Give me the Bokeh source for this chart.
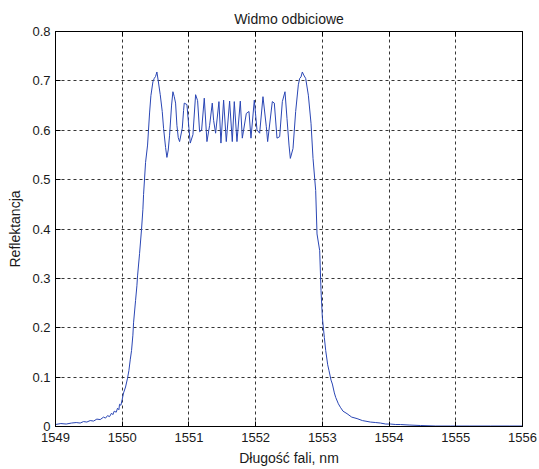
from bokeh.plotting import figure
from bokeh.models import Range1d, FixedTicker, LinearAxis, CustomLabelingPolicy
from bokeh.embed import file_html
from bokeh.resources import INLINE

# Reflection spectrum
wavelength = [
    1549.00, 1549.08, 1549.16, 1549.24, 1549.31, 1549.37, 1549.42, 1549.47,
    1549.52, 1549.57, 1549.62, 1549.67, 1549.72, 1549.75, 1549.78, 1549.81,
    1549.84, 1549.86, 1549.88, 1549.91, 1549.93, 1549.95, 1549.96, 1549.98,
    1550.00, 1550.02, 1550.05, 1550.08, 1550.10, 1550.12, 1550.14, 1550.16,
    1550.17, 1550.20, 1550.22, 1550.23, 1550.26, 1550.29, 1550.31, 1550.32,
    1550.35, 1550.38, 1550.41, 1550.43, 1550.46, 1550.48, 1550.50, 1550.52,
    1550.54, 1550.57, 1550.60, 1550.62, 1550.65, 1550.67, 1550.69, 1550.71,
    1550.74, 1550.76, 1550.78, 1550.80, 1550.82, 1550.84, 1550.86, 1550.90,
    1550.92, 1550.93, 1550.97, 1551.00, 1551.02, 1551.06, 1551.10, 1551.13,
    1551.16, 1551.19, 1551.23, 1551.27, 1551.31, 1551.35, 1551.37, 1551.40,
    1551.45, 1551.48, 1551.52, 1551.56, 1551.61, 1551.65, 1551.68, 1551.72,
    1551.77, 1551.80, 1551.86, 1551.90, 1551.93, 1551.98, 1552.02, 1552.06,
    1552.11, 1552.16, 1552.18, 1552.25, 1552.28, 1552.32, 1552.36, 1552.40,
    1552.44, 1552.47, 1552.50, 1552.52, 1552.56, 1552.60, 1552.64, 1552.66,
    1552.68, 1552.70, 1552.72, 1552.75, 1552.79, 1552.83, 1552.86, 1552.90,
    1552.92, 1552.96, 1552.98, 1553.00, 1553.03, 1553.05, 1553.08, 1553.10,
    1553.13, 1553.15, 1553.18, 1553.20, 1553.24, 1553.27, 1553.31, 1553.37,
    1553.44, 1553.52, 1553.60, 1553.72, 1553.80, 1553.87, 1553.95, 1554.02,
    1554.10, 1554.17, 1554.30, 1554.47, 1554.70, 1554.92, 1555.20, 1555.52,
    1555.80, 1556.00,
]
reflectance = [
    0.004, 0.006, 0.005, 0.007, 0.008, 0.007, 0.010, 0.009,
    0.012, 0.011, 0.015, 0.014, 0.019, 0.017, 0.022, 0.020,
    0.027, 0.024, 0.031, 0.029, 0.037, 0.034, 0.045, 0.043,
    0.055, 0.068, 0.080, 0.098, 0.113, 0.135, 0.154, 0.185,
    0.210, 0.255, 0.285, 0.305, 0.350, 0.400, 0.440, 0.470,
    0.535, 0.570, 0.635, 0.670, 0.698, 0.705, 0.709, 0.718,
    0.700, 0.672, 0.638, 0.604, 0.565, 0.545, 0.560, 0.590,
    0.651, 0.678, 0.668, 0.655, 0.610, 0.585, 0.577, 0.604,
    0.640, 0.655, 0.652, 0.604, 0.574, 0.591, 0.672, 0.660,
    0.597, 0.600, 0.665, 0.577, 0.610, 0.655, 0.620, 0.594,
    0.658, 0.574, 0.661, 0.577, 0.659, 0.577, 0.658, 0.577,
    0.659, 0.584, 0.634, 0.638, 0.584, 0.661, 0.601, 0.594,
    0.668, 0.607, 0.577, 0.658, 0.655, 0.584, 0.587, 0.658,
    0.678, 0.624, 0.570, 0.543, 0.563, 0.638, 0.692, 0.705,
    0.708, 0.718, 0.712, 0.705, 0.671, 0.614, 0.543, 0.478,
    0.390, 0.356, 0.275, 0.221, 0.180, 0.154, 0.125, 0.113,
    0.094, 0.086, 0.068, 0.059, 0.046, 0.039, 0.031, 0.026,
    0.019, 0.016, 0.012, 0.009, 0.008, 0.007, 0.005, 0.005,
    0.004, 0.004, 0.003, 0.002, 0.001, 0.001, 0.001, 0.001,
    0.001, 0.001,
]

x_ticks = [1549, 1550, 1551, 1552, 1553, 1554, 1555, 1556]
x_tick_labels = ["1549", "1550", "1551", "1552", "1553", "1554", "1555", "1556"]
y_ticks = [0, 0.1, 0.2, 0.3, 0.4, 0.5, 0.6, 0.7, 0.8]
y_tick_labels = ["0", "0.1", "0.2", "0.3", "0.4", "0.5", "0.6", "0.7", "0.8"]

FONT = "Liberation Sans"
TXT = "#1a1a1a"

p = figure(
    width=539, height=469,
    output_backend="svg", toolbar_location=None,
    x_range=Range1d(1549, 1556), y_range=Range1d(0, 0.8),
    min_border_left=55, min_border_right=17, min_border_top=31, min_border_bottom=43,
    background_fill_color="white", border_fill_color="white",
)
p.outline_line_color = "black"

p.title.text = "Widmo odbiciowe"
p.title.align = "center"
p.title.text_font = FONT
p.title.text_font_size = "14px"
p.title.text_font_style = "normal"
p.title.text_color = TXT
p.title.standoff = 9

p.line(wavelength, reflectance, line_color="#2a46b4", line_width=1)

xt = {v: s for v, s in zip(x_ticks, x_tick_labels)}
yt = {v: s for v, s in zip(y_ticks, y_tick_labels)}

def style_axis(ax, ticks, labels, show_labels):
    ax.ticker = FixedTicker(ticks=ticks)
    ax.major_tick_in = 5
    ax.major_tick_out = 0
    ax.minor_tick_line_color = None
    ax.axis_line_color = "black"
    ax.major_tick_line_color = "black"
    if show_labels:
        ax.major_label_overrides = labels
        ax.major_label_text_font = FONT
        ax.major_label_text_font_size = "13px"
        ax.major_label_text_color = TXT
        ax.major_label_standoff = 5
    else:
        ax.major_label_text_font_size = "0px"
        ax.major_label_standoff = 0
        ax.major_label_policy = CustomLabelingPolicy(code="return new Set()")
    ax.axis_label_text_font = FONT
    ax.axis_label_text_font_size = "14px"
    ax.axis_label_text_font_style = "normal"
    ax.axis_label_text_color = TXT

style_axis(p.xaxis[0], x_ticks, xt, True)
style_axis(p.yaxis[0], y_ticks, yt, True)
p.xaxis[0].axis_label = "Długość fali, nm"
p.xaxis[0].major_label_standoff = 6
p.xaxis[0].axis_label_standoff = 5
p.yaxis[0].axis_label = "Reflektancja"
p.yaxis[0].axis_label_standoff = 6

top_axis = LinearAxis()
style_axis(top_axis, x_ticks, xt, False)
p.add_layout(top_axis, "above")
right_axis = LinearAxis()
style_axis(right_axis, y_ticks, yt, False)
p.add_layout(right_axis, "right")

for g in (p.xgrid[0], p.ygrid[0]):
    g.grid_line_color = "#202020"
    g.grid_line_dash = "3 3"
    g.grid_line_width = 1
    g.grid_line_alpha = 0.9
p.xgrid[0].ticker = FixedTicker(ticks=x_ticks)
p.ygrid[0].ticker = FixedTicker(ticks=y_ticks)

open("out.html", "w").write(file_html(p, INLINE))
